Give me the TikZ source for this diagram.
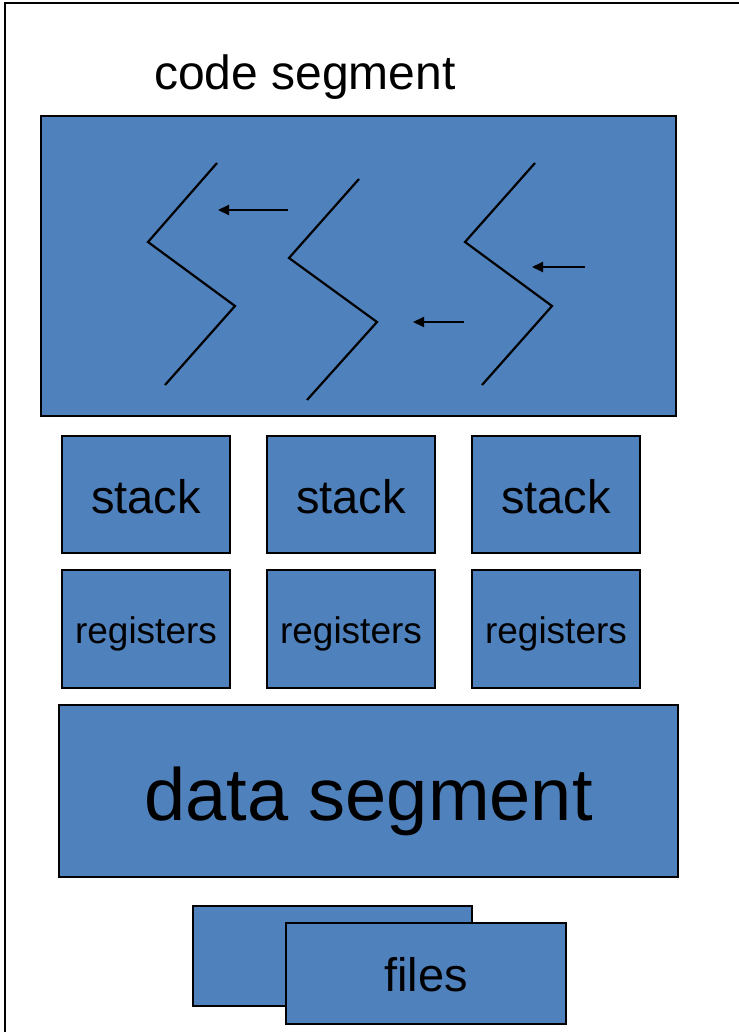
\documentclass[tikz,border=0pt]{standalone}
\usepackage{fontspec}
\setmainfont{Liberation Sans}
\usetikzlibrary{arrows.meta}
\definecolor{boxblue}{HTML}{4F81BD}
\begin{document}
\begin{tikzpicture}[x=1pt,y=-1pt,
  box/.style={draw=black, line width=2.4pt, fill=boxblue, inner sep=0pt, outer sep=0pt, anchor=center, text depth=0pt},
  zig/.style={draw=black, line width=2.2pt},
  thread/.style={draw=black, line width=2.2pt, -{Triangle[length=11pt,width=10pt]}}]
\useasboundingbox (0,0) rectangle (738,1032);
\fill[white] (0,0) rectangle (738,1032);
\draw[line width=2pt] (5,3) rectangle (780,1080);
\node[anchor=base] (title) at (305,90) {\fontsize{48}{56}\selectfont code segment};
\node[box, minimum width=635pt, minimum height=300pt] (code) at (358.5,266) {};
% threads
\draw[zig] (217,163) -- (148,242) -- (235,306) -- (165,385);
\draw[zig] (359,179) -- (289,258) -- (377,322) -- (307,400);
\draw[zig] (535,163) -- (465,242) -- (552,306) -- (482,385);
\coordinate (a1s) at (288,210); \coordinate (a1e) at (218,210);
\coordinate (a2s) at (464,322); \coordinate (a2e) at (413,322);
\coordinate (a3s) at (585,267); \coordinate (a3e) at (532,267);
\draw[thread] (a1s) -- (a1e);
\draw[thread] (a2s) -- (a2e);
\draw[thread] (a3s) -- (a3e);
% stacks
\foreach \n/\cx in {1/146,2/351,3/556}{
  \node[box, minimum width=168pt, minimum height=117pt, text height=37pt] (stack\n) at (\cx,494.5) {\fontsize{47}{50}\selectfont stack};
  \node[box, minimum width=168pt, minimum height=118pt, text height=28.6pt] (reg\n) at (\cx,629) {\fontsize{37}{40}\selectfont registers};
}
\node[box, minimum width=619pt, minimum height=172pt, text height=58pt] (data) at (368.5,791) {\fontsize{74}{80}\selectfont data segment};
\node[box, minimum width=279pt, minimum height=100pt] (filesback) at (332.5,956) {};
\node[box, minimum width=280pt, minimum height=101pt, text height=35pt] (files) at (426,973.5) {\fontsize{47}{50}\selectfont files};
\end{tikzpicture}
\end{document}
